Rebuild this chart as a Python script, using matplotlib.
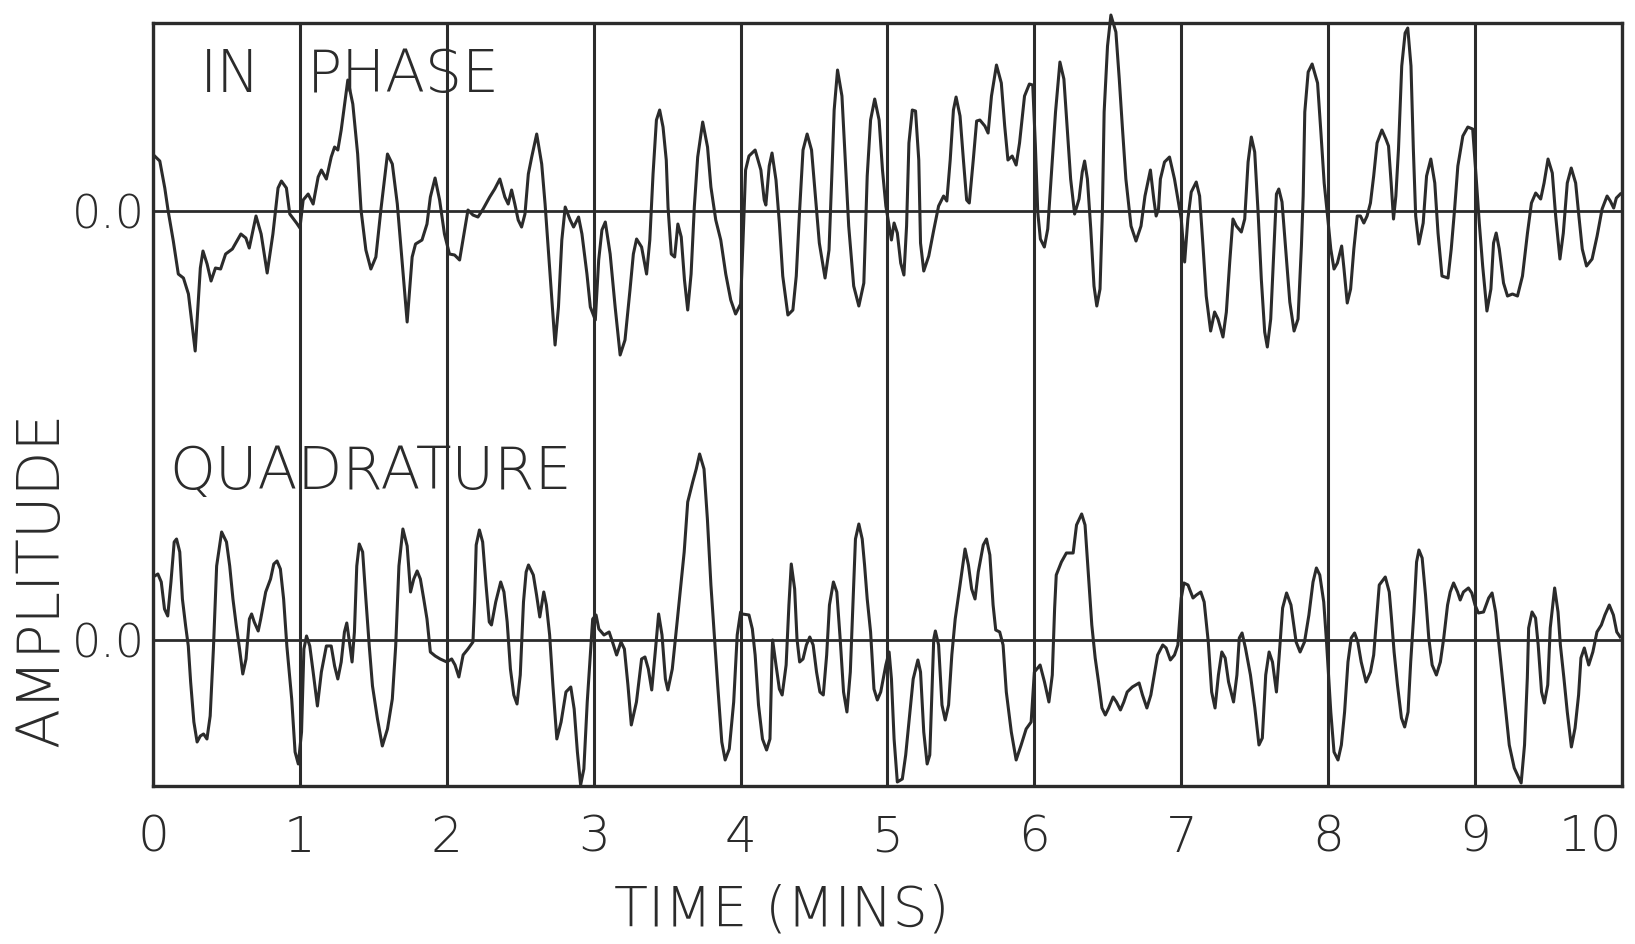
import matplotlib.pyplot as plt

# values: time in minutes, amplitude relative to each trace's own zero line
inphase_t = [0.011, 0.046, 0.080, 0.103, 0.138, 0.172, 0.207, 0.241, 0.287, 0.322, 0.340, 0.368,
             0.395, 0.425, 0.460, 0.494, 0.540, 0.598, 0.632, 0.655, 0.701, 0.736, 0.777, 0.816,
             0.851, 0.874, 0.908, 0.931, 0.977, 1.000, 1.022, 1.056, 1.090, 1.124, 1.146, 1.180,
             1.213, 1.236, 1.258, 1.281, 1.326, 1.360, 1.393, 1.416, 1.449, 1.483, 1.517, 1.551,
             1.596, 1.629, 1.663, 1.697, 1.730, 1.764, 1.787, 1.831, 1.865, 1.888, 1.920, 1.951,
             1.984, 2.018, 2.053, 2.087, 2.110, 2.144, 2.178, 2.212, 2.247, 2.292, 2.326, 2.361,
             2.395, 2.418, 2.441, 2.463, 2.486, 2.509, 2.532, 2.555, 2.578, 2.612, 2.646, 2.669,
             2.703, 2.737, 2.760, 2.783, 2.806, 2.840, 2.863, 2.897, 2.920, 2.954, 2.977, 3.011,
             3.034, 3.056, 3.079, 3.112, 3.146, 3.180, 3.213, 3.247, 3.270, 3.292, 3.326, 3.360,
             3.382, 3.404, 3.427, 3.449, 3.472, 3.494, 3.506, 3.528, 3.551, 3.573, 3.596, 3.618,
             3.640, 3.663, 3.685, 3.708, 3.742, 3.775, 3.798, 3.831, 3.865, 3.899, 3.933, 3.966,
             4.000, 4.016, 4.034, 4.057, 4.099, 4.138, 4.161, 4.172, 4.195, 4.214, 4.241, 4.264,
             4.287, 4.322, 4.356, 4.379, 4.402, 4.425, 4.453, 4.483, 4.506, 4.536, 4.575, 4.602,
             4.621, 4.637, 4.660, 4.690, 4.713, 4.736, 4.770, 4.805, 4.839, 4.862, 4.885, 4.913,
             4.943, 4.966, 4.989, 5.011, 5.027, 5.045, 5.067, 5.090, 5.112, 5.130, 5.146, 5.169,
             5.191, 5.213, 5.225, 5.247, 5.281, 5.315, 5.348, 5.382, 5.404, 5.427, 5.449, 5.467,
             5.494, 5.517, 5.539, 5.557, 5.584, 5.607, 5.629, 5.663, 5.685, 5.708, 5.742, 5.775,
             5.798, 5.820, 5.849, 5.876, 5.899, 5.933, 5.966, 5.989, 6.007, 6.023, 6.041, 6.068,
             6.091, 6.121, 6.144, 6.174, 6.201, 6.224, 6.247, 6.274, 6.304, 6.326, 6.342, 6.361,
             6.384, 6.406, 6.425, 6.447, 6.463, 6.475, 6.498, 6.521, 6.555, 6.578, 6.600, 6.623,
             6.658, 6.692, 6.726, 6.753, 6.790, 6.813, 6.829, 6.845, 6.858, 6.886, 6.920, 6.954,
             6.977, 7.000, 7.023, 7.045, 7.068, 7.102, 7.125, 7.148, 7.170, 7.200, 7.227, 7.250,
             7.284, 7.307, 7.330, 7.352, 7.375, 7.409, 7.432, 7.455, 7.477, 7.500, 7.523, 7.545,
             7.568, 7.586, 7.609, 7.632, 7.648, 7.664, 7.686, 7.709, 7.739, 7.768, 7.795, 7.818,
             7.830, 7.841, 7.864, 7.891, 7.928, 7.951, 7.973, 7.996, 8.018, 8.040, 8.063, 8.092,
             8.108, 8.130, 8.153, 8.175, 8.198, 8.220, 8.243, 8.265, 8.288, 8.310, 8.333, 8.366,
             8.393, 8.411, 8.429, 8.445, 8.461, 8.479, 8.501, 8.524, 8.542, 8.564, 8.580, 8.596,
             8.618, 8.647, 8.670, 8.699, 8.726, 8.748, 8.775, 8.816, 8.838, 8.861, 8.883, 8.917,
             8.951, 8.984, 9.007, 9.029, 9.052, 9.081, 9.108, 9.126, 9.144, 9.165, 9.194, 9.221,
             9.255, 9.289, 9.323, 9.357, 9.384, 9.413, 9.447, 9.470, 9.497, 9.526, 9.549, 9.578,
             9.601, 9.628, 9.655, 9.685, 9.707, 9.730, 9.759, 9.797, 9.831, 9.865, 9.899, 9.921,
             9.944, 9.962, 9.989]
inphase_v = [0.55, 0.50, 0.23, 0.00, -0.30, -0.63, -0.67, -0.83, -1.40, -0.57, -0.40, -0.53,
             -0.70, -0.57, -0.58, -0.43, -0.38, -0.23, -0.27, -0.37, -0.05, -0.23, -0.62, -0.23,
             0.23, 0.30, 0.23, -0.03, -0.12, -0.17, 0.11, 0.17, 0.07, 0.34, 0.41, 0.32,
             0.54, 0.64, 0.61, 0.81, 1.31, 1.07, 0.57, 0.01, -0.39, -0.58, -0.46, 0.01,
             0.57, 0.47, 0.07, -0.53, -1.11, -0.46, -0.33, -0.29, -0.13, 0.14, 0.33, 0.11,
             -0.23, -0.43, -0.44, -0.49, -0.29, 0.01, -0.04, -0.06, 0.02, 0.14, 0.22, 0.32,
             0.14, 0.07, 0.21, 0.07, -0.09, -0.16, -0.03, 0.37, 0.54, 0.77, 0.47, 0.07,
             -0.63, -1.34, -0.96, -0.29, 0.04, -0.09, -0.16, -0.06, -0.23, -0.63, -0.96, -1.09,
             -0.49, -0.19, -0.11, -0.43, -0.96, -1.44, -1.29, -0.79, -0.43, -0.28, -0.36, -0.63,
             -0.29, 0.37, 0.91, 1.01, 0.84, 0.51, 0.04, -0.43, -0.46, -0.13, -0.26, -0.69,
             -0.99, -0.63, 0.04, 0.54, 0.89, 0.64, 0.24, -0.09, -0.29, -0.63, -0.89, -1.03,
             -0.93, -0.32, 0.41, 0.55, 0.61, 0.41, 0.11, 0.06, 0.45, 0.58, 0.31, -0.12,
             -0.65, -1.04, -0.99, -0.65, 0.01, 0.61, 0.77, 0.61, 0.21, -0.32, -0.67, -0.39,
             0.35, 1.01, 1.41, 1.15, 0.51, -0.15, -0.75, -0.95, -0.72, 0.35, 0.91, 1.12,
             0.91, 0.41, 0.05, -0.15, -0.29, -0.12, -0.22, -0.52, -0.64, -0.15, 0.68, 1.01,
             1.00, 0.51, -0.32, -0.60, -0.45, -0.19, 0.05, 0.15, 0.10, 0.51, 1.01, 1.14,
             0.95, 0.51, 0.11, 0.08, 0.51, 0.90, 0.91, 0.85, 0.78, 1.15, 1.46, 1.28,
             0.85, 0.51, 0.55, 0.46, 0.68, 1.15, 1.27, 1.26, 0.65, -0.01, -0.28, -0.36,
             -0.18, 0.49, 0.99, 1.49, 1.32, 0.82, 0.32, -0.03, 0.12, 0.39, 0.50, 0.32,
             -0.18, -0.75, -0.95, -0.78, -0.01, 0.99, 1.65, 1.96, 1.79, 1.32, 0.82, 0.32,
             -0.15, -0.30, -0.15, 0.15, 0.41, 0.12, -0.05, 0.02, 0.32, 0.49, 0.54, 0.32,
             0.12, -0.08, -0.51, -0.08, 0.19, 0.29, 0.15, -0.35, -0.85, -1.20, -1.01, -1.08,
             -1.26, -1.01, -0.51, -0.08, -0.15, -0.21, -0.08, 0.49, 0.74, 0.59, -0.01, -0.68,
             -1.21, -1.36, -1.08, -0.35, 0.17, 0.22, 0.09, -0.35, -0.91, -1.20, -1.08, -0.35,
             0.15, 0.99, 1.39, 1.47, 1.28, 0.78, 0.28, -0.05, -0.38, -0.58, -0.52, -0.35,
             -0.58, -0.92, -0.78, -0.38, -0.05, -0.05, -0.12, -0.05, 0.08, 0.35, 0.68, 0.81,
             0.72, 0.65, 0.28, -0.08, 0.15, 0.62, 1.45, 1.78, 1.83, 1.45, 0.62, -0.05,
             -0.33, -0.12, 0.35, 0.52, 0.28, -0.22, -0.65, -0.67, -0.38, 0.02, 0.45, 0.75,
             0.84, 0.82, 0.35, -0.12, -0.55, -1.00, -0.78, -0.32, -0.22, -0.38, -0.72, -0.85,
             -0.83, -0.85, -0.65, -0.22, 0.08, 0.18, 0.12, 0.28, 0.52, 0.38, -0.05, -0.48,
             -0.22, 0.28, 0.43, 0.28, -0.05, -0.38, -0.55, -0.48, -0.25, 0.02, 0.15, 0.10,
             0.03, 0.13, 0.17]

quad_t = [0.011, 0.033, 0.056, 0.078, 0.100, 0.122, 0.144, 0.160, 0.182, 0.200, 0.222, 0.240,
          0.256, 0.278, 0.300, 0.322, 0.344, 0.367, 0.389, 0.411, 0.433, 0.467, 0.500, 0.522,
          0.544, 0.567, 0.589, 0.611, 0.633, 0.656, 0.671, 0.689, 0.716, 0.733, 0.767, 0.800,
          0.822, 0.844, 0.867, 0.889, 0.911, 0.944, 0.967, 0.989, 1.011, 1.027, 1.045, 1.067,
          1.090, 1.119, 1.146, 1.180, 1.213, 1.236, 1.258, 1.281, 1.303, 1.319, 1.337, 1.355,
          1.371, 1.387, 1.404, 1.427, 1.449, 1.472, 1.494, 1.528, 1.561, 1.596, 1.629, 1.652,
          1.674, 1.701, 1.730, 1.753, 1.775, 1.798, 1.820, 1.843, 1.865, 1.888, 1.921, 1.955,
          2.000, 2.033, 2.056, 2.082, 2.111, 2.144, 2.178, 2.189, 2.200, 2.222, 2.244, 2.267,
          2.289, 2.304, 2.333, 2.367, 2.389, 2.411, 2.433, 2.456, 2.478, 2.500, 2.522, 2.540,
          2.556, 2.589, 2.611, 2.633, 2.660, 2.678, 2.700, 2.722, 2.749, 2.778, 2.811, 2.844,
          2.867, 2.889, 2.911, 2.933, 2.956, 2.978, 2.993, 3.016, 3.035, 3.070, 3.105, 3.128,
          3.156, 3.186, 3.209, 3.233, 3.256, 3.291, 3.326, 3.349, 3.372, 3.395, 3.419, 3.442,
          3.465, 3.488, 3.505, 3.535, 3.570, 3.593, 3.616, 3.640, 3.674, 3.698, 3.721, 3.751,
          3.774, 3.798, 3.821, 3.844, 3.872, 3.895, 3.923, 3.953, 3.977, 4.000, 4.011, 4.057,
          4.080, 4.099, 4.122, 4.149, 4.177, 4.200, 4.214, 4.218, 4.241, 4.264, 4.283, 4.310,
          4.329, 4.345, 4.368, 4.384, 4.402, 4.425, 4.448, 4.471, 4.494, 4.517, 4.540, 4.563,
          4.586, 4.605, 4.632, 4.655, 4.678, 4.701, 4.724, 4.747, 4.766, 4.782, 4.805, 4.828,
          4.844, 4.862, 4.885, 4.908, 4.931, 4.954, 4.989, 5.011, 5.027, 5.045, 5.067, 5.101,
          5.124, 5.146, 5.175, 5.207, 5.225, 5.247, 5.270, 5.288, 5.303, 5.315, 5.326, 5.348,
          5.371, 5.393, 5.416, 5.438, 5.461, 5.494, 5.528, 5.551, 5.573, 5.596, 5.618, 5.652,
          5.674, 5.697, 5.719, 5.737, 5.764, 5.787, 5.809, 5.843, 5.876, 5.910, 5.944, 5.978,
          6.000, 6.023, 6.039, 6.069, 6.099, 6.122, 6.138, 6.149, 6.184, 6.218, 6.264, 6.287,
          6.322, 6.345, 6.368, 6.391, 6.414, 6.437, 6.460, 6.483, 6.506, 6.536, 6.559, 6.586,
          6.609, 6.632, 6.667, 6.713, 6.736, 6.766, 6.793, 6.816, 6.839, 6.874, 6.897, 6.926,
          6.954, 6.977, 7.000, 7.018, 7.046, 7.080, 7.103, 7.133, 7.156, 7.184, 7.207, 7.230,
          7.253, 7.276, 7.299, 7.322, 7.356, 7.379, 7.395, 7.414, 7.437, 7.471, 7.501, 7.529,
          7.552, 7.575, 7.598, 7.621, 7.648, 7.667, 7.690, 7.717, 7.747, 7.782, 7.809, 7.839,
          7.869, 7.897, 7.920, 7.943, 7.970, 7.989, 8.018, 8.040, 8.067, 8.090, 8.112, 8.135,
          8.157, 8.180, 8.202, 8.225, 8.258, 8.288, 8.310, 8.326, 8.348, 8.389, 8.416, 8.431,
          8.449, 8.472, 8.499, 8.521, 8.544, 8.562, 8.584, 8.602, 8.618, 8.640, 8.663, 8.685,
          8.708, 8.737, 8.764, 8.787, 8.813, 8.831, 8.854, 8.881, 8.899, 8.921, 8.955, 8.978,
          9.000, 9.023, 9.058, 9.093, 9.116, 9.140, 9.163, 9.198, 9.233, 9.267, 9.314, 9.337,
          9.356, 9.365, 9.388, 9.412, 9.430, 9.453, 9.472, 9.495, 9.512, 9.542, 9.565, 9.581,
          9.605, 9.628, 9.656, 9.681, 9.705, 9.721, 9.744, 9.774, 9.802, 9.830, 9.860, 9.884,
          9.914, 9.942, 9.965, 9.988]
quad_v = [0.64, 0.66, 0.58, 0.31, 0.24, 0.58, 0.98, 1.01, 0.88, 0.41, 0.14, -0.06,
          -0.42, -0.82, -1.02, -0.96, -0.94, -0.99, -0.76, -0.09, 0.74, 1.08, 0.98, 0.74,
          0.41, 0.14, -0.09, -0.34, -0.19, 0.21, 0.26, 0.18, 0.09, 0.21, 0.48, 0.61,
          0.76, 0.79, 0.71, 0.41, -0.06, -0.59, -1.12, -1.24, -0.92, -0.09, 0.04, -0.06,
          -0.32, -0.66, -0.32, -0.06, -0.06, -0.26, -0.39, -0.22, 0.08, 0.17, -0.02, -0.22,
          0.08, 0.74, 0.96, 0.88, 0.41, -0.06, -0.46, -0.79, -1.06, -0.89, -0.59, -0.06,
          0.74, 1.11, 0.94, 0.48, 0.61, 0.69, 0.61, 0.41, 0.21, -0.12, -0.16, -0.19,
          -0.22, -0.19, -0.25, -0.37, -0.15, -0.09, -0.02, 0.38, 0.95, 1.10, 0.98, 0.55,
          0.18, 0.15, 0.38, 0.58, 0.48, 0.18, -0.29, -0.55, -0.64, -0.35, 0.38, 0.68,
          0.75, 0.65, 0.45, 0.23, 0.48, 0.35, 0.05, -0.45, -0.99, -0.82, -0.52, -0.47,
          -0.69, -1.12, -1.45, -1.29, -0.62, -0.12, 0.21, 0.25, 0.11, 0.05, 0.08, -0.02,
          -0.15, -0.02, -0.09, -0.45, -0.85, -0.62, -0.19, -0.17, -0.29, -0.50, -0.12, 0.26,
          0.05, -0.39, -0.50, -0.29, 0.21, 0.55, 0.88, 1.38, 1.58, 1.71, 1.86, 1.71,
          1.21, 0.55, 0.05, -0.45, -1.02, -1.20, -1.09, -0.62, 0.05, 0.28, 0.26, 0.25,
          0.11, -0.15, -0.65, -0.99, -1.10, -0.99, -0.15, 0.00, -0.25, -0.49, -0.55, -0.25,
          0.35, 0.76, 0.51, 0.01, -0.22, -0.19, -0.05, 0.03, -0.05, -0.32, -0.52, -0.55,
          -0.15, 0.35, 0.58, 0.48, 0.01, -0.52, -0.72, -0.32, 0.41, 1.01, 1.16, 1.01,
          0.75, 0.41, 0.08, -0.49, -0.60, -0.52, -0.25, -0.12, -0.39, -0.99, -1.42, -1.39,
          -1.15, -0.82, -0.39, -0.20, -0.32, -0.92, -1.24, -1.15, -0.49, 0.01, 0.09, -0.05,
          -0.65, -0.80, -0.65, -0.15, 0.21, 0.55, 0.91, 0.75, 0.51, 0.41, 0.68, 0.95,
          1.01, 0.85, 0.35, 0.10, 0.08, -0.05, -0.52, -0.92, -1.20, -1.05, -0.89, -0.82,
          -0.32, -0.28, -0.25, -0.42, -0.62, -0.35, 0.32, 0.65, 0.78, 0.87, 0.87, 1.15,
          1.26, 1.15, 0.65, 0.15, -0.18, -0.42, -0.68, -0.75, -0.68, -0.57, -0.62, -0.70,
          -0.62, -0.52, -0.47, -0.43, -0.55, -0.68, -0.55, -0.35, -0.15, -0.05, -0.08, -0.20,
          -0.15, -0.05, 0.42, 0.57, 0.55, 0.42, 0.45, 0.48, 0.38, -0.02, -0.52, -0.68,
          -0.35, -0.12, -0.18, -0.42, -0.62, -0.35, 0.02, 0.07, -0.08, -0.35, -0.68, -1.05,
          -0.98, -0.35, -0.12, -0.22, -0.52, -0.15, 0.32, 0.47, 0.35, -0.02, -0.12, -0.02,
          0.25, 0.58, 0.72, 0.65, 0.38, -0.02, -0.72, -1.12, -1.20, -1.05, -0.72, -0.22,
          0.02, 0.07, -0.02, -0.22, -0.42, -0.32, -0.15, 0.15, 0.55, 0.63, 0.48, 0.22,
          -0.12, -0.45, -0.78, -0.87, -0.72, -0.22, 0.28, 0.78, 0.90, 0.82, 0.45, 0.02,
          -0.25, -0.35, -0.22, 0.02, 0.35, 0.48, 0.57, 0.48, 0.40, 0.48, 0.52, 0.47,
          0.35, 0.27, 0.28, 0.42, 0.47, 0.28, -0.05, -0.55, -1.05, -1.28, -1.43, -1.05,
          -0.38, 0.12, 0.28, 0.22, -0.05, -0.52, -0.63, -0.45, 0.12, 0.52, 0.28, -0.05,
          -0.38, -0.72, -1.07, -0.88, -0.55, -0.18, -0.08, -0.25, -0.12, 0.08, 0.15, 0.25,
          0.35, 0.25, 0.08, 0.03]

minutes = list(range(11))
minute_labels = [str(m) for m in minutes]
zero_labels = ["0.0", "0.0"]
inphase_offset = 4.29   # in-phase trace sits above the quadrature trace

ink = "#2b2b2b"
plt.rcParams["font.family"] = ["DejaVu Sans"]
plt.rcParams["font.weight"] = "light"

fig = plt.figure(figsize=(16.35, 9.44), dpi=100)
ax = fig.add_axes([0.0936, 0.1674, 0.8984, 0.8082])

# minute grid and zero lines
for m in minutes:
    ax.axvline(m, color=ink, lw=2.2)
ax.axhline(inphase_offset, color=ink, lw=2.0)
ax.axhline(0.0, color=ink, lw=2.0)

ax.plot(inphase_t, [inphase_offset + v for v in inphase_v], color=ink, lw=2.2,
        solid_joinstyle="round", clip_on=False)
ax.plot(quad_t, quad_v, color=ink, lw=2.2, solid_joinstyle="round", clip_on=False)

ax.set_xlim(0, 10)
ax.set_ylim(-1.46, 6.17)
for side in ax.spines.values():
    side.set_linewidth(2.4)
    side.set_color(ink)

ax.set_xticks(minutes, minute_labels)
ax.set_yticks([inphase_offset, 0.0], zero_labels)
ax.tick_params(axis="x", length=0, pad=20, labelsize=36, labelcolor=ink)
ax.tick_params(axis="y", length=0, pad=6, labelsize=33, labelcolor=ink)
ax.get_xticklabels()[-1].set_horizontalalignment("right")

ax.text(0.32, 5.64, "IN", fontsize=42, color=ink, va="center")
ax.text(1.05, 5.64, "PHASE", fontsize=42, color=ink, va="center")
ax.text(0.11, 1.67, "QUADRATURE", fontsize=42, color=ink, va="center")

fig.text(0.478, 0.035, "TIME (MINS)", fontsize=40, color=ink, ha="center", va="center")
fig.text(0.026, 0.386, "AMPLITUDE", fontsize=42, color=ink, ha="center", va="center",
         rotation=90)

fig.savefig("out.png", dpi=100)
